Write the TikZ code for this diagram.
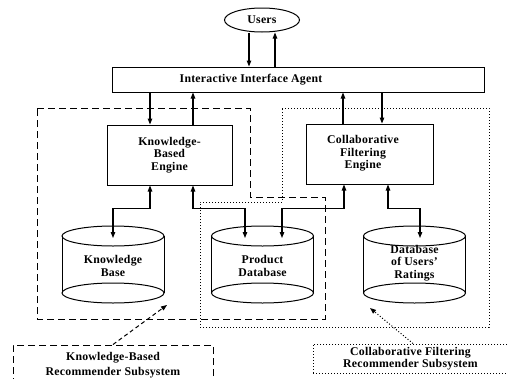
\documentclass[tikz,border=0pt]{standalone}
\usepackage{fontspec}
\setmainfont{Liberation Serif}[LetterSpace=2]
\usetikzlibrary{arrows.meta,shapes.geometric,calc}
\begin{document}
\begin{tikzpicture}[x=1pt,y=-1pt,
  txt/.style={font=\fontsize{11.8}{12.3}\selectfont\bfseries, align=center, inner sep=0pt},
  box/.style={draw, line width=1pt, inner sep=0pt},
  cyl/.style={draw, ellipse, line width=1pt, inner sep=0pt, minimum width=102pt, minimum height=20pt},
  tip/.tip={Triangle[length=6pt,width=4.5pt]},
  arr/.style={line width=1.1pt, -tip},
  dbl/.style={line width=1.1pt, tip-tip},
  kbline/.style={line width=1pt, dash pattern=on 7pt off 4pt},
  cfline/.style={line width=1pt, dash pattern=on 1pt off 2pt},
  ]
\useasboundingbox (0,0) rectangle (508,378);

% regions
\draw[kbline] (37,108) -- (250,108) -- (250,197) -- (325,197) -- (325,319) -- (37,319) -- cycle;
\draw[cfline] (282,108) -- (489,108) -- (489,327) -- (200,327) -- (200,202) -- (282,202) -- cycle;

% users and interface
\node[draw, ellipse, line width=1pt, minimum width=75pt, minimum height=24pt, txt] (users) at (262,20) {Users};
\node[box, minimum width=372pt, minimum height=25pt] (iia) at (298,79.5) {};
\node[txt] (iiatxt) at (251,80) {Interactive Interface Agent};

\draw[arr] ([xshift=-13pt]users.south) -- ([xshift=-13pt]users.south |- iia.north);
\draw[arr] ([xshift=13pt]iia.north -| users.south) -- ([xshift=13pt]users.south);

% engines
\node[box, minimum width=125pt, minimum height=60pt, txt] (kbe) at (169.5,155) {Knowledge-\\Based\\Engine};
\node[box, minimum width=127pt, minimum height=60pt] (cfe) at (369.5,154) {};
\node[txt] (cfetxt) at (363,153.5) {Collaborative\\Filtering\\Engine};

\draw[arr] ([xshift=-19.5pt]kbe.north |- iia.south) -- ([xshift=-19.5pt]kbe.north);
\draw[arr] ([xshift=23.5pt]kbe.north) -- ([xshift=23.5pt]kbe.north |- iia.south);
\draw[arr] ([xshift=-26.5pt]cfe.north) -- ([xshift=-26.5pt]cfe.north |- iia.south);
\draw[arr] ([xshift=12.5pt]cfe.north |- iia.south) -- ([xshift=12.5pt]cfe.north);

% cylinders
\draw[line width=1pt] (62,236) -- (62,293) (164,236) -- (164,293);
\node[cyl] (kbtop) at (113,236) {};
\node[cyl] (kbbot) at (113,293) {};
\node[txt] (kb) at (113,266) {Knowledge\\Base};

\draw[line width=1pt] (211.5,236) -- (211.5,293) (313.5,236) -- (313.5,293);
\node[cyl] (pdtop) at (262.5,236) {};
\node[cyl] (pdbot) at (262.5,293) {};
\node[txt] (pd) at (262.5,266) {Product\\Database};

\draw[line width=1pt] (363.5,236) -- (363.5,293) (465.5,236) -- (465.5,293);
\node[cyl] (durtop) at (414.5,236) {};
\node[cyl] (durbot) at (414.5,293) {};
\node[txt] (dur) at (414.5,263) {Database\\of Users'\\Ratings};

\draw[dbl] ([xshift=-19.5pt]kbe.south) -- ++(0,23) -| ([yshift=-2pt]kbtop.center);
\draw[dbl] ([xshift=23.5pt]kbe.south) -- ++(0,23) -| ([xshift=-17.5pt,yshift=-2pt]pdtop.center);
\draw[dbl] ([xshift=-25.5pt]cfe.south) -- ++(0,24) -| ([xshift=19.5pt,yshift=-2pt]pdtop.center);
\draw[dbl] ([xshift=18.5pt]cfe.south) -- ++(0,24) -| ([xshift=5.5pt,yshift=-2pt]durtop.center);

% subsystem labels
\node[kbline, draw, minimum width=200pt, minimum height=40pt, txt] (kbrs) at (113,365) {Knowledge-Based\\[3pt]Recommender Subsystem};
\node[cfline, draw, minimum width=195pt, minimum height=29pt, txt] (cfrs) at (410.5,358.5) {Collaborative Filtering\\Recommender Subsystem};

\coordinate (kbptr) at (167,305);
\coordinate (cfptr) at (370,308);
\draw[line width=1pt, dash pattern=on 4pt off 3pt, -tip] (kbrs.north) -- (kbptr);
\draw[line width=1pt, dash pattern=on 1pt off 2pt, -tip] ([xshift=2.5pt]cfrs.north) -- (cfptr);
\end{tikzpicture}
\end{document}
